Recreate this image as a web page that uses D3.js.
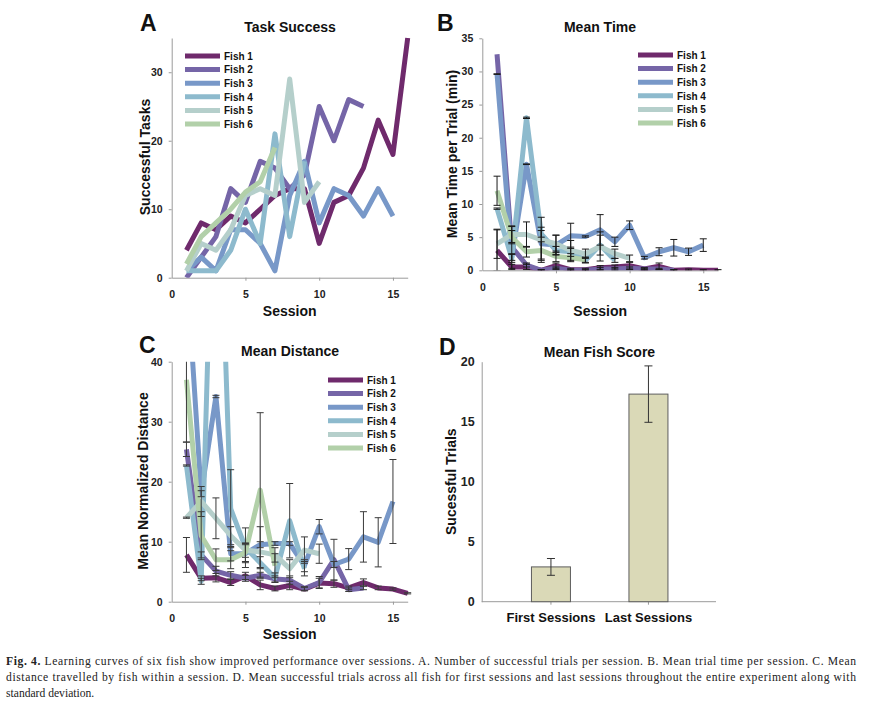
<!DOCTYPE html>
<html><head><meta charset="utf-8">
<script src="https://cdn.jsdelivr.net/npm/d3@7"></script>
<style>
body{margin:0;background:#fff}
svg{display:block}
text{font-family:"Liberation Sans",Arial,sans-serif}
</style>
</head><body>
<svg id="chart" width="878" height="710"></svg>
<script>
// ---------- DATA ----------
const fishNames = ["Fish 1","Fish 2","Fish 3","Fish 4","Fish 5","Fish 6"];
const fishColors = ["#6f2a6c","#7565a7","#7898c8","#8dbacd","#b5cfcb","#b2d0a9"];
const sessionTicks = [0,5,10,15];

// Panel A: successful tasks per session (index 0 = session 1)
const taskSuccess = [
  [4,8,7,9,8,10,12,13,13,5,11,12,16,23,18,35],
  [0,3,6,13,11,17,16,13,15,25,20,26,25],
  [1,3,1,7,7,5,1,12,17,8,13,12,9,13,9],
  [1,1,1,4,10,5,21,6,17],
  [1,5,4,7,12,13,12,29,11,14],
  [2,6,8,10,12.5,14,19]
];
const taskSuccessTicks = [0,10,20,30];

// Panel B: mean time per trial (min) and SD
const meanTime = [
  [3,0.5,0.5,0,0.7,0.1,0.1,0.4,0.5,0.7,0.2,0.6,0,0.1,0,0],
  [32.6,3.5,0.8,0,0.3,0,0,0.2,0.2,0.3,0.2,0.2,0],
  [29.6,2,16,4,3.8,5.2,5.1,6.1,4.3,6.8,1.9,2.8,3.4,2.8,3.8],
  [9.3,1.8,23,5.5,3,2.8,1.5,3.8,1.5],
  [4,5.4,5.4,4.6,4,3,2.5,3.6,2.5,1.8],
  [12,5,2.8,3,2.1,1.9,1.6]
];
const meanTimeErr = [
  [3.1,0.4,0.4,0.1,0.4,0.2,0.2,0.3,0.3,0.5,0.2,0.5,0.1,0.1,0.1,0.1],
  [0,3.2,0.3,0.1,0.2,0.1,0.1,0.2,0.2,0.2,0.1,0.1,0.1],
  [0.05,0.5,0.05,2.5,1.5,1.9,0.1,2.3,0.7,0.65,0.2,0.6,1.25,0.55,0.95],
  [0.1,0.6,0.1,0.5,0.6,0.7,0.4,1.5,0.3],
  [2.2,1.2,1.9,3.4,1.3,1.5,0.7,2.2,0.7,0.5],
  [2.2,1,0.8,1.3,0.8,0.6,0.4]
];
const meanTimeTicks = [0,5,10,15,20,25,30,35];

// Panel C: mean normalized distance and SD
const meanDistance = [
  [7.8,3.9,4,3.2,4.3,2.8,2.2,2.7,2.1,3.1,3.0,2.3,3.2,2.3,2.1,1.4],
  [25.4,7.8,5.1,4.4,3.9,4.4,3.8,3.6,2.2,3.2,7.0,2.0,2.3],
  [56,18,34.2,8,8,9.5,9.7,9.7,6,12.5,6.2,7.1,10.8,9.9,16.7],
  [22.7,3.4,88,15.5,9,6.5,4,13.5,5.5],
  [14,16.7,13.9,11,8.6,8.3,7.8,5.5,8.6,8],
  [37,11,7,7,8.2,18.6,6]
];
const meanDistanceErr = [
  [2.9,0.4,0.7,0.5,0.6,0.8,0.4,0.7,0.3,0.8,0.6,0.3,0.6,0.3,0.2,0.1],
  [1.2,0.5,0.8,0.6,0.5,0.5,0.5,0.7,0.3,1.0,3.4,0.3,0.3],
  [0,0.5,0.2,1.2,1.5,0.5,0.3,0.3,1.0,1.2,0.5,1.75,4.2,4.1,7],
  [0.1,0.5,0.1,6.5,3.3,1.0,0.8,6.2,1.2],
  [0.1,2.5,3.4,1.5,1.2,4.2,1.2,1.5,2.2,1.6],
  [10.4,4,1.8,1.5,1.5,12.9,2]
];
const meanDistanceTicks = [0,10,20,30,40];

// Panel D: mean fish score
const scoreCategories = ["First Sessions","Last Sessions"];
const scoreMeans = [2.9,17.3];
const scoreSD = [0.7,2.35];
const scoreTicks = [0,5,10,15,20];

// ---------- DRAWING ----------
const svg = d3.select("#chart");
const axisColor = "#9a9a9a";
const tickTextColor = "#222";

function styleAxis(g, fs){
  g.select(".domain").attr("stroke", axisColor).attr("stroke-width",1);
  g.selectAll(".tick line").attr("stroke", axisColor);
  g.selectAll(".tick text").attr("fill", tickTextColor)
    .style("font-family","'Liberation Sans',Arial,sans-serif")
    .style("font-weight","bold").style("font-size", fs+"px");
}

function boldText(x, y, str, size, anchor, rotate){
  const t = svg.append("text").attr("x",x).attr("y",y).text(str)
    .attr("font-weight","bold").attr("font-size",size).attr("fill","#111")
    .attr("text-anchor",anchor||"middle");
  if (rotate) t.attr("transform",`rotate(-90,${x},${y})`);
  return t;
}

function linePanel(cfg){
  const x = d3.scaleLinear().domain([0,16]).range(cfg.xr);
  const y = d3.scaleLinear().domain([0,cfg.yMax]).range(cfg.yr);
  const id = "clip"+cfg.letter;
  svg.append("clipPath").attr("id",id).append("rect")
    .attr("x",cfg.xr[0]).attr("y",cfg.yr[1]-cfg.clipPad)
    .attr("width",cfg.xr[1]-cfg.xr[0]+6).attr("height",cfg.yr[0]-cfg.yr[1]+cfg.clipPad);

  const gx = svg.append("g").attr("transform",`translate(0,${cfg.yr[0]})`)
    .call(d3.axisBottom(x).tickValues(sessionTicks).tickSize(3).tickPadding(10).tickSizeOuter(0));
  styleAxis(gx, 10.5);
  gx.selectAll(".tick").filter(d=>d===0).select("line").remove();
  const gy = svg.append("g").attr("transform",`translate(${cfg.xr[0]},0)`)
    .call(d3.axisLeft(y).tickValues(cfg.ticks).tickSize(3).tickPadding(6).tickSizeOuter(0));
  styleAxis(gy, 10.5);

  const plot = svg.append("g").attr("clip-path",`url(#${id})`);
  const line = d3.line().x((d,i)=>x(i+1)).y(d=>y(d)).curve(d3.curveLinear);
  cfg.series.forEach((s,k)=>{
    plot.append("path").attr("d",line(s)).attr("fill","none")
      .attr("stroke",fishColors[k]).attr("stroke-width",5)
      .attr("stroke-linejoin","round").attr("stroke-linecap","butt");
  });
  if (cfg.errors){
    const eg = plot.append("g").attr("stroke",cfg.errColor).attr("stroke-width",1);
    cfg.errors.forEach((es,k)=>{
      es.forEach((e,i)=>{
        if (!e) return;
        const v = cfg.series[k][i];
        const cx = x(i+1);
        const y1 = y(v-e), y2 = y(v+e);
        eg.append("line").attr("x1",cx).attr("x2",cx).attr("y1",y1).attr("y2",y2);
        eg.append("line").attr("x1",cx-3.5).attr("x2",cx+3.5).attr("y1",y1).attr("y2",y1);
        eg.append("line").attr("x1",cx-3.5).attr("x2",cx+3.5).attr("y1",y2).attr("y2",y2);
      });
    });
  }
  // legend
  fishNames.forEach((n,k)=>{
    const ly = cfg.legY + k*13.6;
    svg.append("line").attr("x1",cfg.legX).attr("x2",cfg.legX+35)
      .attr("y1",ly).attr("y2",ly).attr("stroke",fishColors[k]).attr("stroke-width",5);
    svg.append("text").attr("x",cfg.legX+39).attr("y",ly+3.7).text(n)
      .attr("font-weight","bold").attr("font-size",10).attr("fill","#111");
  });
  // titles
  boldText(cfg.titleX, cfg.titleY, cfg.title, 14);
  boldText(cfg.letterX, cfg.letterY, cfg.letter, 23, "start");
  boldText((cfg.xr[0]+cfg.xr[1])/2, cfg.xlabY, "Session", 14);
  boldText(cfg.ylabX, cfg.ylabY, cfg.ylabel, 14, "middle", true);
}

linePanel({letter:"A", xr:[171.7,407.7], yr:[277.7,38], yMax:35, ticks:taskSuccessTicks,
  series:taskSuccess, errors:null, clipPad:6,
  legX:185, legY:56, title:"Task Success", titleX:290, titleY:32, letterX:140, letterY:31,
  xlabY:316, ylabX:150, ylabY:157, ylabel:"Successful Tasks"});

linePanel({letter:"B", xr:[482.3,718], yr:[270.3,38.3], yMax:35, ticks:meanTimeTicks,
  series:meanTime, errors:meanTimeErr, errColor:"#1a1a1a", clipPad:0,
  legX:638, legY:55, title:"Mean Time", titleX:600, titleY:32, letterX:437, letterY:31,
  xlabY:316, ylabX:456.5, ylabY:154, ylabel:"Mean Time per Trial (min)"});

linePanel({letter:"C", xr:[171.7,407.7], yr:[601.7,361.7], yMax:40, ticks:meanDistanceTicks,
  series:meanDistance, errors:meanDistanceErr, errColor:"#3a3a3a", clipPad:0,
  legX:328, legY:380, title:"Mean Distance", titleX:290, titleY:356, letterX:139, letterY:353,
  xlabY:639, ylabX:148, ylabY:481, ylabel:"Mean Normalized Distance"});

// Panel D
(function(){
  const x = d3.scaleBand().domain(scoreCategories).range([502.2,697.2]);
  const y = d3.scaleLinear().domain([0,20]).range([601.7,361.7]);
  const bw = x.bandwidth()*0.4;
  svg.append("line").attr("x1",481.7).attr("x2",716).attr("y1",601.7).attr("y2",601.7)
    .attr("stroke",axisColor);
  const gy = svg.append("g").attr("transform","translate(481.7,0)")
    .call(d3.axisLeft(y).tickValues(scoreTicks).tickSize(0).tickPadding(7).tickSizeOuter(0));
  styleAxis(gy, 12.5);
  const gx = svg.append("g").attr("transform","translate(0,601.7)")
    .call(d3.axisBottom(x).tickSize(3).tickPadding(8).tickSizeOuter(0));
  gx.select(".domain").remove();
  styleAxis(gx, 13);
  gx.selectAll(".tick text").attr("fill","#111");

  svg.selectAll("rect.bar").data(scoreMeans).enter().append("rect").attr("class","bar")
    .attr("x",(d,i)=>x(scoreCategories[i])+x.bandwidth()/2-bw/2)
    .attr("width",bw).attr("y",d=>y(d)).attr("height",d=>y(0)-y(d))
    .attr("fill","#dad9b7").attr("stroke","#5e5e5e").attr("stroke-width",1);
  const eg = svg.append("g").attr("stroke","#333").attr("stroke-width",1);
  scoreMeans.forEach((m,i)=>{
    const cx = x(scoreCategories[i])+x.bandwidth()/2;
    const y1 = y(m-scoreSD[i]), y2 = y(m+scoreSD[i]);
    eg.append("line").attr("x1",cx).attr("x2",cx).attr("y1",y1).attr("y2",y2);
    eg.append("line").attr("x1",cx-4).attr("x2",cx+4).attr("y1",y1).attr("y2",y1);
    eg.append("line").attr("x1",cx-4).attr("x2",cx+4).attr("y1",y2).attr("y2",y2);
  });
  boldText(599.5, 356.5, "Mean Fish Score", 14);
  boldText(439, 355, "D", 23, "start");
  boldText(455.7, 481.7, "Sucessful Trials", 14, "middle", true);
})();

// Caption
const cap = svg.append("g").style("font-family","'Liberation Serif','Times New Roman',serif")
  .attr("font-size",11.6).attr("fill","#222");
const l1 = cap.append("text").attr("x",6).attr("y",665).attr("textLength",850).attr("lengthAdjust","spacing")
  .style("font-family","'Liberation Serif',serif");
l1.append("tspan").attr("font-weight","bold").text("Fig. 4.");
l1.append("tspan").text(" Learning curves of six fish show improved performance over sessions. A. Number of successful trials per session. B. Mean trial time per session. C. Mean");
cap.append("text").attr("x",6).attr("y",681).attr("textLength",850).attr("lengthAdjust","spacing")
  .style("font-family","'Liberation Serif',serif")
  .text("distance travelled by fish within a session. D. Mean successful trials across all fish for first sessions and last sessions throughout the entire experiment along with");
cap.append("text").attr("x",6).attr("y",697).style("font-family","'Liberation Serif',serif")
  .text("standard deviation.");
</script>
</body></html>
